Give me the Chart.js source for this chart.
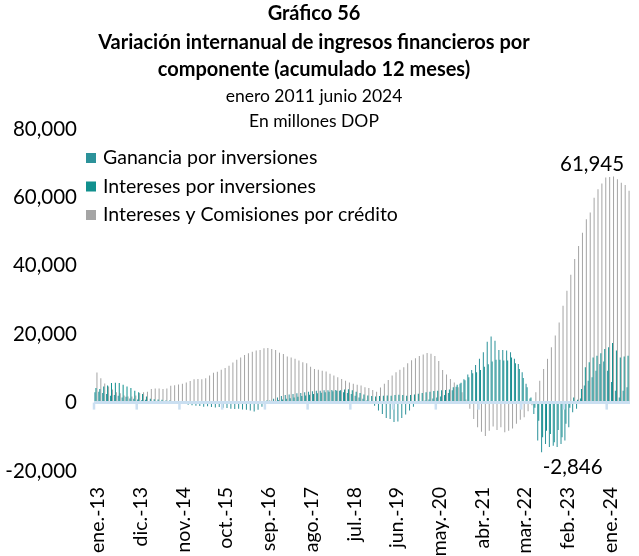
<!DOCTYPE html>
<html>
<head>
<meta charset="utf-8">
<script src="https://cdn.jsdelivr.net/npm/chart.js@4.4.1/dist/chart.umd.min.js"></script>
<style>
  html, body { margin: 0; padding: 0; background: #ffffff; }
  #wrap { width: 639px; height: 556px; position: relative; }
</style>
</head>
<body>
<div id="wrap"><canvas id="chart" width="639" height="556"></canvas></div>
<script>
// Monthly categories, ene.-13 to jun.-24
const monthNames = ['ene.', 'feb.', 'mar.', 'abr.', 'may.', 'jun.', 'jul.', 'ago.', 'sep.', 'oct.', 'nov.', 'dic.'];
const categories = [];
for (let yr = 13; yr <= 24; yr++) {
  for (let m = 0; m < 12; m++) {
    if (yr === 24 && m > 5) break;
    categories.push(monthNames[m] + '-' + yr);
  }
}

const seriesNames = ['Ganancia por inversiones', 'Intereses por inversiones', 'Intereses y Comisiones por crédito'];

// Year-on-year change, millions DOP (12-month accumulated)
const gananciaInversiones = [
  3000, 3200, 2800, 2500, 2000, 2200, 2000, 1500, 1700, 1200,
  1100, 900, 700, 800, 500, 300, 200, 400, 100, -200,
  100, -300, -300, -400, -600, -800, -900, -1000, -1200, -1100,
  -1300, -1400, -1300, -1500, -1600, -1800, -1900, -1800, -2000, -2100,
  -2300, -2600, -2100, -1200, -300, 600, 1100, 1500, 1900, 2200,
  2400, 2500, 2700, 2800, 3000, 3200, 3300, 3500, 3500, 3600,
  3600, 3700, 3700, 3500, 3000, 2800, 2500, 2000, 1500, 1100,
  600, 200, -900, -2300, -3300, -4500, -4800, -5700, -5500, -4500,
  -3500, -2300, -1200, -400, 200, 600, 900, 1200, 1500, 1800,
  2200, 2800, 3600, 4600, 5500, 6800, 8200, 9500, 11000, 12800,
  14700, 17800, 19300, 18100, 15400, 15400, 15200, 14700, 12800, 11300,
  8900, 5500, 1200, -3300, -11100, -14500, -12100, -13000, -12600, -13000,
  -12100, -11100, -7200, -2846, -1800, 1200, 5000, 6400, 7400, 9300,
  11300, 12000, 9300, 6000, 3500, 1500, 3500, 4500
];

const interesesInversiones = [
  4300, 4000, 4700, 5000, 5700, 5800, 5700, 5200, 4700, 4300,
  3500, 3000, 2500, 1800, 1100, 1000, 900, 800, 600, 600,
  400, 400, 300, 300, 300, 200, 200, 100, 100, 0,
  -100, 100, 0, -200, -100, 0, 100, -100, 0, 100,
  200, 300, 400, 500, 600, 300, 500, 700, 900, 1100,
  1300, 1500, 1700, 1900, 2100, 2300, 2500, 2700, 2900, 3000,
  3200, 3300, 3500, 3600, 3800, 3900, 3600, 3200, 2800, 2400,
  2100, 1900, 1800, 1900, 2000, 2100, 2000, 2200, 2300, 2200,
  2000, 2200, 2400, 2600, 2800, 3000, 3200, 3400, 3500, 3600,
  3700, 3800, 4500, 5200, 5800, 6500, 7400, 8600, 8900, 9500,
  10500, 11200, 12000, 12500, 12500, 12300, 12300, 13200, 11500, 9800,
  7200, 4500, 1500, -1500, -5300, -10100, -8200, -9200, -11600, -8000,
  -10100, -6200, -1500, 1500, 800, 4000, 10300, 11800, 13200, 13700,
  14400, 15700, 16200, 17400, 15200, 13200, 13500, 13700
];

const interesesCredito = [
  8800, 7100, 5600, 4700, 3800, 3000, 2700, 2100, 1800, 1800,
  2100, 2800, 3000, 3200, 4000, 4100, 4100, 4000, 4100, 4900,
  5100, 5300, 5500, 5900, 6300, 6800, 6900, 6800, 7100, 7900,
  8700, 9000, 9600, 10100, 10800, 11700, 12500, 13200, 13900, 14400,
  14900, 15200, 15400, 15900, 16000, 15700, 15400, 14600, 14200, 13500,
  13200, 12800, 12300, 11800, 11500, 10500, 9800, 9600, 9300, 9100,
  8400, 7900, 7400, 6900, 6400, 5900, 5500, 5200, 5000, 4500,
  4300, 3700, 3200, 4400, 5500, 6600, 7900, 8900, 9600, 10300,
  11500, 12400, 13000, 13600, 14100, 14500, 14300, 13600, 12200, 9500,
  8200, 6900, 5900, 4500, 3000, 900, -1800, -4800, -7200, -8500,
  -9800, -8200, -7000, -8000, -7200, -8700, -8200, -7600, -6200, -5000,
  -4300, -2500, -800, 3000, 6400, 9800, 12800, 16200, 19600, 23400,
  28300, 32700, 37400, 42000, 45800, 49700, 53600, 55600, 59900, 62400,
  64100, 65800, 66000, 66100, 65300, 64300, 63600, 61945
];

const yTickValues = [-20000, 0, 20000, 40000, 60000, 80000];
const tickLabelStep = 11;

const FONT = 'Lato, "Open Sans", sans-serif';
const fmt = v => Number(v).toLocaleString('en-US');

// Heading lines above the plot
const headingPlugin = {
  id: 'heading',
  afterDraw(chart) {
    const ctx = chart.ctx;
    const lines = [
      { text: 'Gráfico 56', bold: true, y: 20 },
      { text: 'Variación internanual de ingresos financieros por', bold: true, y: 49 },
      { text: 'componente (acumulado 12 meses)', bold: true, y: 76 },
      { text: 'enero 2011 junio 2024', bold: false, y: 102 },
      { text: 'En millones DOP', bold: false, y: 127 }
    ];
    ctx.save();
    ctx.fillStyle = '#000';
    ctx.textAlign = 'center';
    ctx.textBaseline = 'alphabetic';
    lines.forEach(l => {
      ctx.font = l.bold ? 'bold 20px ' + FONT : '17.5px ' + FONT;
      ctx.fillText(l.text, 314, l.y);
    });
    ctx.restore();
  }
};

// Legend drawn inside the plot, top-left
const insideLegendPlugin = {
  id: 'insideLegend',
  afterDraw(chart) {
    const ctx = chart.ctx;
    ctx.save();
    ctx.font = '19.5px ' + FONT;
    ctx.textBaseline = 'middle';
    ctx.textAlign = 'left';
    chart.data.datasets.forEach((ds, i) => {
      const y = 158 + i * 28.5;
      ctx.fillStyle = ds.backgroundColor;
      ctx.fillRect(86, y - 5, 10, 10);
      ctx.fillStyle = '#000';
      ctx.fillText(ds.label, 103, y);
    });
    ctx.restore();
  }
};

// Zero axis line with tick marks every 11 months
const zeroAxisPlugin = {
  id: 'zeroAxis',
  afterDatasetsDraw(chart) {
    const { ctx, chartArea, scales } = chart;
    const y0 = scales.y.getPixelForValue(0);
    const half = (scales.x.getPixelForValue(1) - scales.x.getPixelForValue(0)) / 2;
    ctx.save();
    ctx.strokeStyle = '#cadff1';
    ctx.lineWidth = 3;
    ctx.beginPath();
    ctx.moveTo(chartArea.left, y0);
    ctx.lineTo(chartArea.right, y0);
    ctx.stroke();
    ctx.lineWidth = 2.5;
    for (let i = 0; i < categories.length; i += tickLabelStep) {
      const x = scales.x.getPixelForValue(i) - half;
      ctx.beginPath();
      ctx.moveTo(x, y0);
      ctx.lineTo(x, y0 + 7);
      ctx.stroke();
    }
    ctx.restore();
  }
};

// Value labels attached to individual bars
const valueLabelPlugin = {
  id: 'valueLabels',
  afterDatasetsDraw(chart, args, opts) {
    const ctx = chart.ctx;
    ctx.save();
    ctx.font = '20.5px ' + FONT;
    ctx.fillStyle = '#000';
    ctx.textAlign = 'center';
    ctx.textBaseline = 'middle';
    (opts.items || []).forEach(it => {
      const el = chart.getDatasetMeta(it.dataset).data[it.index];
      const v = chart.data.datasets[it.dataset].data[it.index];
      ctx.fillText(fmt(v), el.x + it.dx, el.y + it.dy);
    });
    ctx.restore();
  }
};

const barCommon = { borderWidth: 0, inflateAmount: 0, categoryPercentage: 0.78, barPercentage: 1.0 };

new Chart(document.getElementById('chart'), {
  type: 'bar',
  data: {
    labels: categories,
    datasets: [
      Object.assign({ label: seriesNames[0], data: gananciaInversiones, backgroundColor: '#2c929a' }, barCommon),
      Object.assign({ label: seriesNames[1], data: interesesInversiones, backgroundColor: '#11908e' }, barCommon),
      Object.assign({ label: seriesNames[2], data: interesesCredito, backgroundColor: '#a5a5a5' }, barCommon)
    ]
  },
  options: {
    responsive: false,
    animation: false,
    devicePixelRatio: 1,
    layout: { padding: { top: 129, right: 9, bottom: 0, left: 0 } },
    plugins: {
      legend: { display: false },
      title: { display: false },
      tooltip: { enabled: false },
      valueLabels: {
        items: [
          { dataset: 2, index: 137, dx: -37, dy: -26 },
          { dataset: 0, index: 123, dx: 0, dy: 55 }
        ]
      }
    },
    scales: {
      x: {
        grid: { display: false, drawTicks: false },
        border: { display: false },
        ticks: {
          autoSkip: false,
          minRotation: 90,
          maxRotation: 90,
          padding: 16,
          labelOffset: 2,
          color: '#000',
          font: { family: FONT, size: 19.5 },
          callback: (v, i) => (i % tickLabelStep === 0 ? categories[i] : '')
        },
        afterFit: s => { s.height = 85; s.paddingLeft = 0; s.paddingRight = 0; }
      },
      y: {
        min: -20000,
        max: 80000,
        afterBuildTicks: s => { s.ticks = yTickValues.map(v => ({ value: v })); },
        grid: { display: false, drawTicks: false },
        border: { display: false },
        ticks: {
          padding: 17,
          color: '#000',
          font: { family: FONT, size: 20.5 },
          callback: v => fmt(v)
        },
        afterFit: s => { s.width = 94; }
      }
    }
  },
  plugins: [headingPlugin, insideLegendPlugin, zeroAxisPlugin, valueLabelPlugin]
});
</script>
</body>
</html>
